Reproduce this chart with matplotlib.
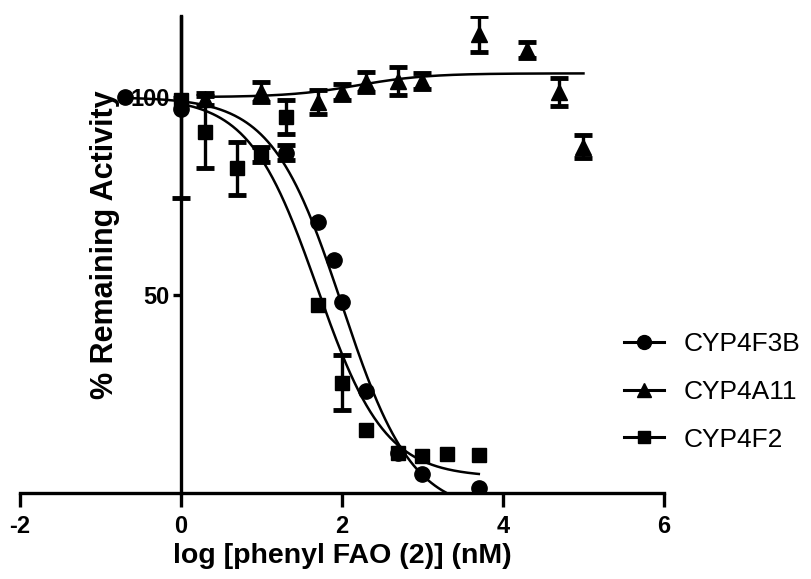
import matplotlib.pyplot as plt
import numpy as np

plt.rcParams['font.family'] = ['Liberation Sans', 'DejaVu Sans']
plt.rcParams['axes.unicode_minus'] = False

# CYP4F3B (circles)
f3b_x = [-0.7, 0.0, 1.3, 1.7, 1.9, 2.0, 2.3, 2.7, 3.0, 3.7]
f3b_y = [100.0, 97.0, 86.0, 68.5, 58.8, 48.3, 25.8, 10.2, 4.8, 1.2]
f3b_err = [0, 0, 2.0, 0, 0, 0, 0, 0, 0, 0]

# CYP4A11 (triangles)
a11_x = [0.3, 1.0, 1.7, 2.0, 2.3, 2.7, 3.0, 3.7, 4.3, 4.7, 5.0]
a11_y = [99.5, 101.3, 98.8, 101.3, 103.9, 104.1, 104.1, 116.0, 111.9, 101.3, 87.5]
a11_err = [1.5, 2.5, 3.0, 2.0, 2.5, 3.5, 2.0, 4.5, 2.0, 3.6, 3.0]

# CYP4F2 (squares)
f2_x = [0.0, 0.3, 0.7, 1.0, 1.3, 1.7, 2.0, 2.3, 2.7, 3.0, 3.3, 3.7]
f2_y = [99.4, 91.2, 82.0, 85.5, 95.0, 47.6, 27.9, 15.9, 10.2, 9.3, 9.8, 9.5]
f2_err = [25.0, 9.0, 6.7, 2.0, 4.3, 0, 7.0, 0, 0, 0, 0, 0]

# fitted curve parameters (top, bottom, logIC50, hill)
f3b_fit = (100.0, -5.0, 2.0, 1.0)
f2_fit = (100.0, 4.0, 1.69, 1.03)
a11_fit = (100.0, 106.0, 2.2, 1.0)


def sigmoid(x, top, bottom, logc, hill):
    return bottom + (top - bottom) / (1 + 10 ** ((x - logc) * hill))


fig = plt.figure(figsize=(8.12, 5.79), dpi=100)
ax = fig.add_axes([0.0246, 0.1485, 0.7931, 0.8239])

series = [
    ("CYP4F3B", f3b_x, f3b_y, f3b_err, f3b_fit, 'o', 11),
    ("CYP4A11", a11_x, a11_y, a11_err, a11_fit, '^', 11),
    ("CYP4F2", f2_x, f2_y, f2_err, f2_fit, 's', 10),
]

for name, xs, ys, errs, fit, mk, ms in series:
    xx = np.linspace(min(xs), max(xs), 300)
    ax.plot(xx, sigmoid(xx, *fit), color='black', lw=1.8, zorder=2)
    ex = [x for x, e in zip(xs, errs) if e > 0]
    ey = [y for y, e in zip(ys, errs) if e > 0]
    ee = [e for e in errs if e > 0]
    ax.errorbar(ex, ey, yerr=ee, fmt='none', ecolor='black',
                elinewidth=2.4, capsize=6.5, capthick=3.5, zorder=3)
    ax.plot(xs, ys, ls='none', marker=mk, ms=ms, color='black', zorder=4)
    ax.plot([], [], color='black', lw=2.2, marker=mk, ms=ms - 1, label=name)

ax.set_xlim(-2, 6)
ax.set_ylim(0, 120.5)
ax.spines['left'].set_position(('data', 0))
ax.spines['right'].set_visible(False)
ax.spines['top'].set_visible(False)
ax.spines['left'].set_linewidth(2.4)
ax.spines['bottom'].set_linewidth(2.4)

ax.set_xticks([-2, 0, 2, 4, 6])
ax.set_yticks([50, 100])
ax.tick_params(axis='x', length=10, width=2.4, labelsize=17, pad=6)
ax.tick_params(axis='y', length=6, width=2.4, labelsize=17, pad=2)
for lab in ax.get_xticklabels() + ax.get_yticklabels():
    lab.set_fontweight('bold')

ax.set_xlabel('log [phenyl FAO (2)] (nM)', fontsize=20.5, fontweight='bold')
ax.xaxis.set_label_coords(0.5, -0.105)
ax.set_ylabel('% Remaining Activity', fontsize=22, fontweight='bold')
ax.yaxis.set_label_coords(0.155, 0.52)

fig.legend(loc='center left', bbox_to_anchor=(0.749, 0.323), frameon=False,
           fontsize=19, handlelength=1.5, labelspacing=0.9, handletextpad=0.75,
           borderpad=0.3, borderaxespad=0.3)

fig.savefig('out.png', dpi=100)
